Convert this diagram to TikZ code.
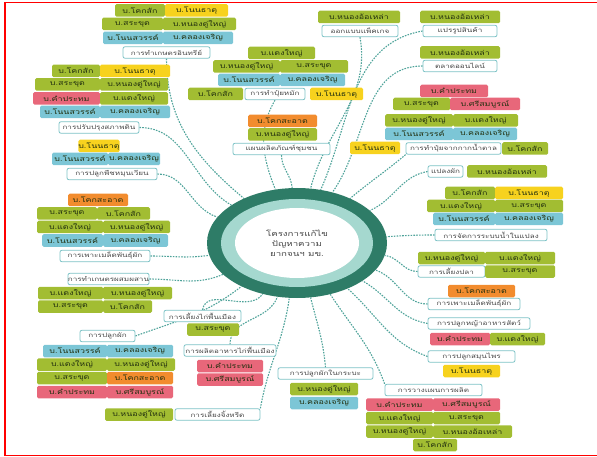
\documentclass[tikz,border=0pt]{standalone}
\usepackage{fontspec}
\newfontfamily\thaifont[Script=Thai,FakeStretch=1.35]{Loma}
\usetikzlibrary{shapes.geometric,backgrounds}

\definecolor{vg}{HTML}{A2BD32}
\definecolor{vy}{HTML}{F7D21E}
\definecolor{vb}{HTML}{7CC6D6}
\definecolor{vr}{HTML}{E8677A}
\definecolor{vo}{HTML}{F28C2E}
\definecolor{vtext}{HTML}{22300F}
\definecolor{linkc}{HTML}{4FA39A}
\definecolor{tborder}{HTML}{7DC3C6}
\definecolor{ttext}{HTML}{474747}
\definecolor{hubdark}{HTML}{2E7C67}
\definecolor{hublight}{HTML}{A5D8CF}

\newcommand{\vfont}{\thaifont\fontsize{6.6}{7}\selectfont}
\newcommand{\tfont}{\thaifont\fontsize{6}{7}\selectfont}
\newcommand{\hubfont}{\thaifont\fontsize{7.2}{10}\selectfont}

\tikzset{%
  village/.style={
    fill=v#1,
    text=vtext,
    rounded corners=1.5pt,
    minimum height=12.5pt,
    inner sep=0pt,
    font=\vfont
  },
  topic/.style={
    draw=tborder,
    line width=0.8pt,
    fill=white,
    text=ttext,
    rounded corners=2pt,
    minimum height=11.5pt,
    inner sep=0pt,
    font=\tfont
  },
  link/.style={
    draw=linkc,
    line width=1.1pt,
    dash pattern=on 1.6pt off 1.2pt
  },
}

\begin{document}
\begin{tikzpicture}[x=1pt, y=1pt]

  \useasboundingbox (0,0) rectangle (597,-457);
  \draw [red, line width=1.8pt] (5,-2.5) rectangle (600,-455.5);

  % central hub
  \fill [hubdark] (297,-243) ellipse [x radius=90, y radius=55];
  \fill [hublight] (297,-243) ellipse [x radius=76, y radius=44];
  \fill [white] (297,-243) ellipse [x radius=62, y radius=35];
  \node [shape=ellipse, minimum width=180pt, minimum height=110pt, inner sep=0pt,
    align=center, text=ttext, font=\hubfont] (hub) at (297,-243)
    {โครงการแก้ไข\\ปัญหาความ\\ยากจนฯ มข.};

  % topics
  \node [topic, minimum width=87pt]  (t1)  at (166.5,-52.5) {การทำเกษตรอินทรีย์};
  \node [topic, minimum width=80pt]  (t2)  at (99,-127.5)   {การปรับปรุงสภาพดิน};
  \node [topic, minimum width=90pt]  (t3)  at (112,-174)    {การปลูกพืชหมุนเวียน};
  \node [topic, minimum width=90pt]  (t4)  at (105,-256)    {การเพาะเมล็ดพันธุ์ผัก};
  \node [topic, minimum width=79pt]  (t5)  at (108.5,-279)  {การทำเกษตรผสมผสาน};
  \node [topic, minimum width=55pt]  (t6)  at (107.5,-336)  {การปลูกผัก};
  \node [topic, minimum width=77pt]  (t7)  at (202.5,-316)  {การเลี้ยงไก่พื้นเมือง};
  \node [topic, minimum width=92pt]  (t8)  at (230,-350.5)  {การผลิตอาหารไก่พื้นเมือง};
  \node [topic, minimum width=85pt]  (t9)  at (217.5,-414.5) {การเลี้ยงจิ้งหรีด};
  \node [topic, minimum width=95pt]  (t10) at (325.5,-373.5) {การปลูกผักในกระบะ};
  \node [topic, minimum width=97pt]  (t11) at (433.5,-390)  {การวางแผนการผลิต};
  \node [topic, minimum width=87pt]  (t12) at (471.5,-356.5) {การปลูกสมุนไพร};
  \node [topic, minimum width=102pt] (t13) at (479,-323.5)  {การปลูกหญ้าอาหารสัตว์};
  \node [topic, minimum width=92pt]  (t14) at (474,-304)    {การเพาะเมล็ดพันธุ์ผัก};
  \node [topic, minimum width=67pt]  (t15) at (451.5,-271.5) {การเลี้ยงปลา};
  \node [topic, minimum width=112pt] (t16) at (491,-235)    {การจัดการระบบน้ำในแปลง};
  \node [topic, minimum width=35pt]  (t17) at (445.5,-171.5) {แปลงผัก};
  \node [topic, minimum width=95pt]  (t18) at (453.5,-148.5) {การทำปุ๋ยจากกากน้ำตาล};
  \node [topic, minimum width=74pt]  (t19) at (460,-66)     {ตลาดออนไลน์};
  \node [topic, minimum width=74pt]  (t20) at (460,-31)     {แปรรูปสินค้า};
  \node [topic, minimum width=76pt]  (t21) at (360,-31)     {ออกแบบแพ็คเกจ};
  \node [topic, minimum width=60pt]  (t22) at (275,-94)     {การทำปุ๋ยหมัก};
  \node [topic, minimum width=97pt]  (t23) at (281.5,-149)  {แผนผลิตภัณฑ์ชุมชน};

  % villages
  \foreach \x/\y/\w/\c/\lab [count=\i] in {
      140/10.5/50/g/บ.โคกสัก, 196.5/10.5/63/y/บ.โนนธาตุ,
      132.5/24/61/g/บ.สระขุด, 199.5/24/73/g/บ.หนองดู่ใหญ่,
      133/38/60/b/บ.โนนสวรรค์, 198/38/70/b/บ.คลองเจริญ,
      76/71/48/g/บ.โคกสัก, 135/71/70/y/บ.โนนธาตุ,
      67.5/84.5/65/g/บ.สระขุด, 134/84.5/68/g/บ.หนองดู่ใหญ่,
      66.5/98.5/67/r/บ.คำประทม, 134/98.5/68/g/บ.แดงใหญ่,
      70/112/60/b/บ.โนนสวรรค์, 135/112/70/b/บ.คลองเจริญ,
      99/146/40/y/บ.โนนธาตุ,
      80/159/56/b/บ.โนนสวรรค์, 134/159/52/b/บ.คลองเจริญ,
      98/200/60/o/บ.โคกสะอาด,
      67/213.5/60/g/บ.สระขุด, 123.5/213.5/53/g/บ.โคกสัก,
      70/227/66/g/บ.แดงใหญ่, 136.5/227/67/g/บ.หนองดู่ใหญ่,
      72.5/240.5/61/b/บ.โนนสวรรค์, 135.5/240.5/65/b/บ.คลองเจริญ,
      70.5/293/65/g/บ.แดงใหญ่, 137.5/293/69/g/บ.หนองดู่ใหญ่,
      70.5/306.5/65/g/บ.สระขุด, 127.5/306.5/49/g/บ.โคกสัก,
      75/351/64/b/บ.โนนสวรรค์, 140/351/66/b/บ.คลองเจริญ,
      72/364.5/70/g/บ.แดงใหญ่, 141/364.5/68/g/บ.หนองดู่ใหญ่,
      72/378/70/g/บ.สระขุด, 140/378/66/o/บ.โคกสะอาด,
      72/392/70/r/บ.คำประทม, 140/392/66/r/บ.ศรีสมบูรณ์,
      139/414.5/68/g/บ.หนองดู่ใหญ่,
      213/329.5/52/g/บ.สระขุด,
      230/366/66/r/บ.คำประทม, 230/379.5/66/r/บ.ศรีสมบูรณ์,
      324/389/68/g/บ.หนองดู่ใหญ่, 324/403/68/b/บ.คลองเจริญ,
      399.5/404.5/67/r/บ.คำประทม, 466.5/404.5/67/r/บ.ศรีสมบูรณ์,
      399.5/418/67/g/บ.แดงใหญ่, 466.5/418/67/g/บ.สระขุด,
      399.5/431.5/67/g/บ.หนองดู่ใหญ่, 472.5/431.5/79/g/บ.หนองอ้อเหล่า,
      435/445/44/g/บ.โคกสัก,
      460/339/60/r/บ.คำประทม, 517.5/339/55/g/บ.แดงใหญ่,
      471.5/371/57/y/บ.โนนธาตุ,
      481.5/291/67/o/บ.โคกสะอาด,
      451.5/258/67/g/บ.หนองดู่ใหญ่, 520/258/70/g/บ.แดงใหญ่,
      520/271.5/70/g/บ.สระขุด,
      470/193/50/g/บ.โคกสัก, 529/193/68/y/บ.โนนธาตุ,
      461/206/68/g/บ.แดงใหญ่, 529/206/68/g/บ.สระขุด,
      464/219/62/b/บ.โนนสวรรค์, 529/219/68/b/บ.คลองเจริญ,
      507/171.5/80/g/บ.หนองอ้อเหล่า,
      454/91/68/r/บ.คำประทม,
      421.5/104/57/g/บ.สระขุด, 485/104/70/r/บ.ศรีสมบูรณ์,
      419/120.5/68/g/บ.หนองดู่ใหญ่, 485.5/120.5/65/g/บ.แดงใหญ่,
      419/134/68/b/บ.โนนสวรรค์, 485/134/64/b/บ.คลองเจริญ,
      375/148/50/y/บ.โนนธาตุ, 525/148.5/46/g/บ.โคกสัก,
      460/17/80/g/บ.หนองอ้อเหล่า, 460/52.5/80/g/บ.หนองอ้อเหล่า,
      359/17/82/g/บ.หนองอ้อเหล่า,
      281.5/53/67/g/บ.แดงใหญ่,
      246.5/66.5/67/g/บ.หนองดู่ใหญ่, 314/66.5/68/g/บ.สระขุด,
      249/80/62/b/บ.โนนสวรรค์, 312.5/80/65/b/บ.คลองเจริญ,
      215.5/94/55/g/บ.โคกสัก, 336.5/94/53/y/บ.โนนธาตุ,
      282.5/121/69/o/บ.โคกสะอาด, 282.5/134.5/69/g/บ.หนองดู่ใหญ่}
    \node [village=\c, minimum width=\w pt] (v-\i) at (\x,-\y) {\lab};

  % dashed links
  \begin{scope}[on background layer]
    \foreach \t/\a/\o/\h in {
        t1/south/-90/140, t2/east/0/150, t3/east/0/162, t4/east/0/188,
        t5/east/0/203, t6/east/20/218, t7/north/80/236, t8/north/90/250,
        t9/north east/80/262, t10/north/95/284, t11/north west/110/303,
        t12/west/160/318, t13/west/170/330, t14/west/180/341,
        t15/west/180/352, t16/west/180/4, t17/west/190/24,
        t18/south west/220/40, t19/west/180/55, t20/west/190/66,
        t21/south/-80/76, t22/south/-120/112, t23/south/-90/95}
      \draw [link] (\t.\a) to [out=\o, in=\h] (hub.\h);
  \end{scope}

\end{tikzpicture}
\end{document}
